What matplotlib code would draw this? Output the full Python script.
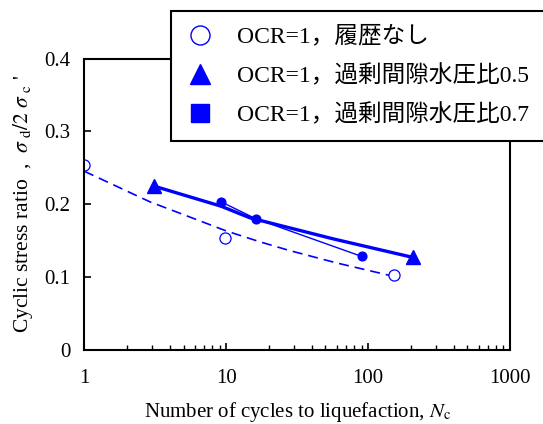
import matplotlib
matplotlib.use("Agg")
import matplotlib.pyplot as plt
from matplotlib.lines import Line2D

# ---- data ----
n_none = [1, 9.8, 153]
csr_none = [0.254, 0.1535, 0.103]
fit_none_n = [1, 2.9, 10, 17.3, 28, 60, 143]
fit_none_csr = [0.245, 0.203, 0.163, 0.148, 0.136, 0.119, 0.1017]

n_05 = [3.11, 208]
csr_05 = [0.2245, 0.1265]
fit_05_n = [3.11, 9.2, 14.7, 57, 208]
fit_05_csr = [0.2245, 0.197, 0.181, 0.152, 0.1265]

n_07 = [9.2, 16.2, 90]
csr_07 = [0.203, 0.1797, 0.128]

legend_labels = ["OCR=1，履歴なし", "OCR=1，過剰間隙水圧比0.5", "OCR=1，過剰間隙水圧比0.7"]
yticks = [0, 0.1, 0.2, 0.3, 0.4]
ytick_labels = ["0", "0.1", "0.2", "0.3", "0.4"]
xticks = [1, 10, 100, 1000]
xtick_labels = ["1", "10", "100", "1000"]

plt.rcParams['font.family'] = ['Liberation Serif', 'Noto Sans CJK JP']
plt.rcParams['mathtext.fontset'] = 'stix'
plt.rcParams['lines.scale_dashes'] = False

BLUE = '#0000FF'
fig = plt.figure(figsize=(5.43, 4.24), dpi=100)
ax = fig.add_axes([0.1553, 0.1757, 0.9392 - 0.1553, 0.862 - 0.1757])

ax.plot(fit_none_n, fit_none_csr, color=BLUE, lw=1.2, linestyle=(0, (7.2, 4.3)))
ax.plot(n_none, csr_none, 'o', mfc='white', mec=BLUE, mew=0.9, ms=8, linestyle='none')
ax.plot(fit_05_n, fit_05_csr, color=BLUE, lw=2.4, solid_capstyle='round')
ax.plot(n_05, csr_05, '^', color=BLUE, ms=9.5, linestyle='none')
ax.plot(n_07, csr_07, '-', color=BLUE, lw=1.0, marker='o', ms=6.3)

ax.set_xscale('log')
ax.set_xlim(1, 1000)
ax.set_ylim(0, 0.4)
ax.set_yticks(yticks)
ax.set_yticklabels(ytick_labels)
ax.set_xticks(xticks)
ax.set_xticklabels(xtick_labels)
ax.tick_params(axis='both', which='both', direction='in', labelsize=15, top=False, right=False)
ax.tick_params(axis='y', which='major', length=5, width=1.2, pad=10)
ax.tick_params(axis='x', which='major', length=5, width=1.2, pad=14)
ax.tick_params(axis='x', which='minor', length=3.5, width=1.0)
for s in ax.spines.values():
    s.set_linewidth(1.5)

ax.set_xlabel("Number of cycles to liquefaction, $N_{\\rm c}$", fontsize=15, labelpad=8.5)
ax.set_ylabel("Cyclic stress ratio  ,  $\\sigma_{\\rm\\ d}/2\\ \\sigma_{\\rm\\ c}$ '", fontsize=15.5, labelpad=7)

handles = [
    Line2D([], [], linestyle='none', marker='o', mfc='white', mec=BLUE, mew=1.0, ms=13.7),
    Line2D([], [], linestyle='none', marker='^', color=BLUE, ms=13.7),
    Line2D([], [], linestyle='none', marker='s', color=BLUE, ms=12.5),
]
leg = fig.legend(handles, legend_labels, loc='upper left',
                 bbox_to_anchor=(0.3149, 0.6658, 0.75, 0.309), mode='expand',
                 borderaxespad=0, fontsize=17, frameon=True, fancybox=False,
                 edgecolor='black', framealpha=1, borderpad=0.65,
                 handlelength=1.16, handletextpad=0.99, labelspacing=0.7)
leg.get_frame().set_linewidth(1.5)

fig.savefig("out.png", dpi=100)
